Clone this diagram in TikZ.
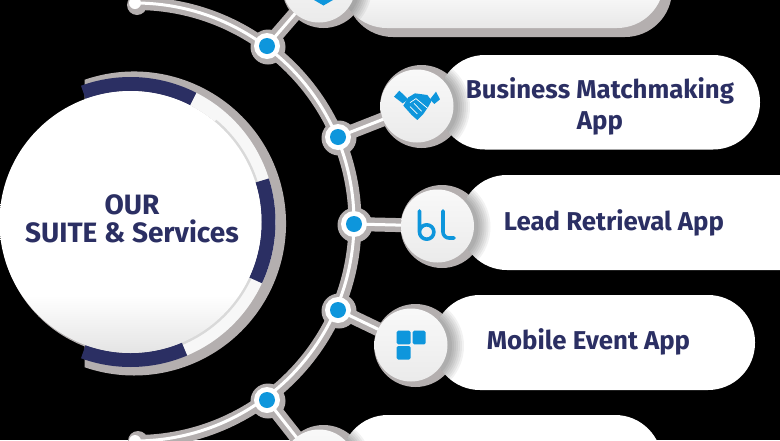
\documentclass[tikz,border=0pt]{standalone}
\usepackage{fontspec}
\setmainfont{Fira Sans}
\definecolor{navy}{HTML}{2B2F63}
\definecolor{dotblue}{HTML}{0E96DC}
\definecolor{casing}{HTML}{B4AFAF}
\definecolor{hubgrey}{HTML}{E4E4E4}
\pgfdeclareverticalshading{hubshade}{100bp}{color(0bp)=(hubgrey); color(25bp)=(hubgrey); color(36bp)=(white); color(100bp)=(white)}
\tikzset{
 x=1pt,y=-1pt,
 labeltext/.style={text=navy,font=\bfseries\fontsize{25.8}{31}\selectfont,align=center,inner sep=0pt},
 maintext/.style={text=navy,font=\bfseries\fontsize{28}{27.5}\selectfont,align=center,inner sep=0pt},
 pillshape/.style={rounded corners=47pt,fill=white},
 pillshade/.style={rounded corners=47pt,top color=white,bottom color=white!82!gray,middle color=white},
 pillcase/.style={rounded corners=47pt,fill=casing},
 iconball/.style={circle,minimum size=73pt,inner sep=0pt,top color=white!95!gray,bottom color=white!84!gray},
 iconcase/.style={circle,minimum size=83pt,inner sep=0pt,fill=casing},
 dotcase/.style={circle,minimum size=35pt,inner sep=0pt,fill=casing},
 dotring/.style={circle,minimum size=26pt,inner sep=0pt,fill=white},
 dotcore/.style={circle,minimum size=16pt,inner sep=0pt,fill=dotblue},
 armcase/.style={line width=13pt,draw=casing},
 armline/.style={line width=3pt,draw=white},
 ringseg/.style={line width=14pt,draw=navy},
 ringpale/.style={line width=14pt,draw=white!94!gray},
 iconfill/.style={fill=dotblue},
 iconline/.style={draw=dotblue,line width=3.6pt,line cap=round,line join=round},
 fingerline/.style={draw=white,line width=0.7pt},
}
\begin{document}
\begin{tikzpicture}
\useasboundingbox[fill=black] (0,0) rectangle (780,440);
\clip (0,0) rectangle (780,440);
% hub
\coordinate (hubc) at (130.5,222);
\fill[casing] (134,223.5)+(-109:152) arc[start angle=-109,end angle=109,radius=152] -- cycle;
\fill[casing] (131.5,224) circle[radius=131];
\draw[ringpale] (hubc)+(-63:138) arc[start angle=-63,end angle=67,radius=138];
\draw[line width=3pt,draw=gray!30] (hubc)+(-50:132) arc[start angle=-50,end angle=67,radius=132];
\draw[ringseg] (hubc)+(-110:138) arc[start angle=-110,end angle=-63,radius=138];
\draw[ringseg] (hubc)+(-17.5:138) arc[start angle=-17.5,end angle=25,radius=138];
\draw[ringseg] (hubc)+(67:138) arc[start angle=67,end angle=110,radius=138];
\node[circle,minimum size=262pt,inner sep=0pt,shading=hubshade] (hub) at (hubc) {};
\node[maintext] (hubtext) at (132,219) {OUR\\SUITE \& Services};
% connector positions
\coordinate (tipa) at (135,3);
\coordinate (tipb) at (135,441);
\coordinate (dota) at (267,46);
\coordinate (dotb) at (338,137);
\coordinate (dotc) at (354,224);
\coordinate (dotd) at (338,310);
\coordinate (dote) at (267,400);
\coordinate (balla) at (319,-14);
\coordinate (ballb) at (417,106);
\coordinate (ballc) at (437.5,226);
\coordinate (balld) at (411,345);
\coordinate (balle) at (319,466);
% connector casings
\draw[armcase] ([shift={(1,0.5)}]tipa) arc[start angle=-90,end angle=90,radius=219];
\foreach \d/\b in {dota/balla,dotb/ballb,dotc/ballc,dotd/balld,dote/balle}{
  \draw[armcase,line width=14pt] (\d) -- (\b);
  \node[dotcase] at ([shift={(1,1)}]\d) {};
}
\fill[casing] (137,5) circle[radius=10];
\fill[casing] (138,441) circle[radius=10];
% ball casings
\foreach \b in {balla,ballb,ballc,balld,balle}{
  \node[iconcase] at ([shift={(4.5,0.5)}]\b) {};
}
% connector lines
\draw[armline] (tipa) arc[start angle=-90,end angle=90,radius=219];
\foreach \d/\b in {dota/balla,dotb/ballb,dotc/ballc,dotd/balld,dote/balle}{
  \draw[armline] (\d) -- (\b);
}
\fill[white] (tipa) circle[radius=6];
\fill[white] (tipb) circle[radius=6];
% dots
\foreach \d in {dota,dotb,dotc,dotd,dote}{
  \node[dotring] at (\d) {};
  \node[dotcore] at (\d) {};
}
% pills
\fill[pillcase] (346,-58) rectangle (672,37);
\path[pillshade] (340,-67) rectangle (664,28);
\fill[pillshape] (438,55) rectangle (760,149.5);
\fill[pillshape] (460,175) rectangle (830,270);
\fill[pillshape] (433,295) rectangle (755,390);
\path[pillshade] (341,415) rectangle (662,510);
% shadow of each ball on its pill
\foreach \b/\xa/\ya/\xb/\yb in {balla/340/-67/664/28,ballb/438/55/760/149.5,ballc/460/175/830/270,balld/433/295/755/390,balle/341/415/662/510}{
  \begin{scope}
    \clip[rounded corners=47pt] (\xa,\ya) rectangle (\xb,\yb);
    \foreach \r in {50,48,...,38}{
      \fill[black,opacity=0.05] ([shift={(3,1)}]\b) circle[radius=\r];
    }
  \end{scope}
}
% balls
\foreach \b in {balla,ballb,ballc,balld,balle}{
  \node[iconball] at (\b) {};
}
% icons
\fill[iconfill] (314,-5) -- (333,-5) -- (333,0) -- (323.5,5.5) -- (314,0) -- cycle;
\begin{scope}[shift={(340,40)},x=0.3333pt,y=-0.3333pt]
  \fill[iconfill] (162,170) -- (178,152) -- (205,178) -- (188,190) -- cycle;
  \fill[iconfill] (270,178) -- (288,155) -- (300,178) -- (283,192) -- cycle;
  \fill[iconfill] (205,172) -- (225,160) -- (262,165) -- (275,182) -- (265,200) -- (250,222) -- (232,240) -- (215,225) -- (190,197) -- cycle;
  \draw[fingerline] (210,188) -- (228,176) -- (262,204);
  \draw[fingerline] (210,200) -- (232,222);
  \draw[fingerline] (222,190) -- (245,214);
\end{scope}
\draw[iconline] (419.5,211) -- (419.5,232) arc[start angle=180,end angle=0,radius=7.2] arc[start angle=0,end angle=-180,radius=7.2];
\draw[iconline] (443,211) -- (443,232) arc[start angle=180,end angle=90,radius=6] -- (454,238);
\fill[iconfill,rounded corners=1.5pt] (396.7,330.7) rectangle (410.7,344.3);
\fill[iconfill,rounded corners=1.5pt] (412.7,330.7) rectangle (425.7,344.3);
\fill[iconfill,rounded corners=1.5pt] (396.7,346) rectangle (410.7,359.5);
% labels
\node[labeltext] (labelb) at (600,106) {Business Matchmaking\\App};
\node[labeltext] (labelc) at (614,222.5) {Lead Retrieval App};
\node[labeltext] (labeld) at (588.5,342) {Mobile Event App};
\end{tikzpicture}
\end{document}
